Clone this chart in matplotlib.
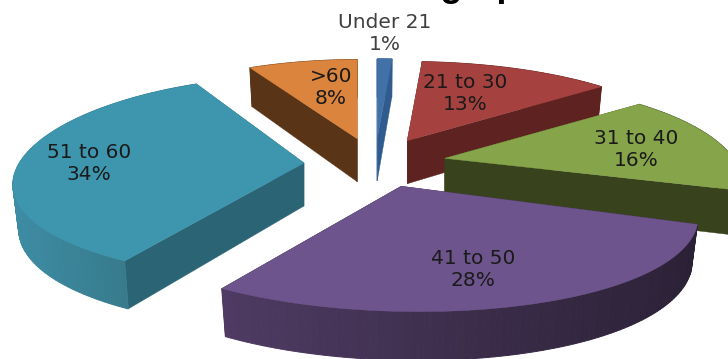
import numpy as np
import matplotlib
matplotlib.use('Agg')
import matplotlib.pyplot as plt
from matplotlib.colors import to_rgb
from matplotlib.patches import Polygon

labels = ['Under 21', '21 to 30', '31 to 40', '41 to 50', '51 to 60', '>60']
shares = [1, 13, 16, 28, 34, 8]
top_colors = ['#4271A8', '#A5423F', '#86A44A', '#6E548D', '#3D96AE', '#DB843D']
side_colors = ['#2F5B8F', '#5E2321', '#38421D', '#2E2339', '#2B6575', '#5A3416']
# outer wall shade at the left and right ends of each slice
rim_left = ['#2F5B8F', '#5E2321', '#38421D', '#4F3B63', '#3D8CA3', '#5A3416']
rim_right = ['#2F5B8F', '#5E2321', '#38421D', '#2B2136', '#34707F', '#5A3416']

# pie geometry in pixels
WIDTH, HEIGHT = 728, 359
CX, CY = 375, 163
RX_LEFT, RX_RIGHT, RX_RIGHT_SLOPE, RY = 279, 288.6, 14.8, 97
PERSP_X, PERSP_Y = 0.286, 0.225
EXPLODE_X, EXPLODE_Y = 71, 25
DEPTH = 43
DRAW_ORDER = [5, 0, 1, 2, 4, 3]
# small per-slice corrections to the rim, vertical shift and slope
arc_lift = [0, 0, 0, 0, -8, 0]
arc_tilt = [0, 0, 0, 0.02, 0, 0]


def project(theta, i):
    # theta runs clockwise from twelve o'clock, returns offsets from the slice tip
    u, v = np.sin(theta), -np.cos(theta)
    rx = np.where(u < 0, RX_LEFT, RX_RIGHT - RX_RIGHT_SLOPE * v)
    x = rx * u / (1 - PERSP_X * v)
    y = RY * v / (1 - PERSP_Y * v) + arc_lift[i] + arc_tilt[i] * x
    return x, y, v


def lower(x, y, v):
    # matching point on the underside of the slice
    return x * 0.98, y + DEPTH / (1 - 0.12 * v)


def draw_slice(ax, i, start, stop):
    mid = (start + stop) / 2
    tip_x = CX + EXPLODE_X * np.sin(mid)
    tip_y = CY - EXPLODE_Y * np.cos(mid)
    thetas = np.linspace(start, stop, max(int(np.degrees(stop - start)), 2) + 1)
    x, y, v = project(thetas, i)
    bx, by = lower(x, y, v)

    # flat cut faces
    for k in (0, -1):
        face = [(tip_x, tip_y), (tip_x + x[k], tip_y + y[k]),
                (tip_x + bx[k], tip_y + by[k]), (tip_x, tip_y + DEPTH)]
        ax.add_patch(Polygon(face, closed=True, fc=side_colors[i], ec=side_colors[i], lw=0.3))

    # outer wall, shaded strip by strip from left to right
    left = np.array(to_rgb(rim_left[i]))
    right = np.array(to_rgb(rim_right[i]))
    for k in range(len(thetas) - 1):
        t = (x[k] - x.min()) / (x.max() - x.min())
        col = left + (right - left) * t
        quad = [(tip_x + x[k], tip_y + y[k]), (tip_x + x[k + 1], tip_y + y[k + 1]),
                (tip_x + bx[k + 1], tip_y + by[k + 1]), (tip_x + bx[k], tip_y + by[k])]
        ax.add_patch(Polygon(quad, closed=True, fc=col, ec=col, lw=0.7))

    top = [(tip_x, tip_y)] + list(zip(tip_x + x, tip_y + y))
    ax.add_patch(Polygon(top, closed=True, fc=top_colors[i], ec=top_colors[i], lw=0.3))


fig = plt.figure(figsize=(WIDTH / 100, HEIGHT / 100), dpi=100)
ax = fig.add_axes([0, 0, 1, 1])
ax.set_xlim(0, WIDTH)
ax.set_ylim(HEIGHT, 0)
ax.axis('off')

edges = np.radians(np.cumsum([0] + shares) / sum(shares) * 360)
for i in DRAW_ORDER:
    draw_slice(ax, i, edges[i], edges[i + 1])

label_pos = [(385, 34), (465, 93), (636, 150), (473, 270), (89, 163), (331, 87)]
label_color = ['#404040', '#1A1A1A', '#1A1A1A', '#1A1A1A', '#1A1A1A', '#1A1A1A']
for name, share, pos, col in zip(labels, shares, label_pos, label_color):
    ax.text(pos[0], pos[1], f'{name}\n{share}%', ha='center', va='center',
            fontsize=14.5, color=col, family='DejaVu Sans', linespacing=1.2)

# title baseline sits above the top edge, only the descenders show
ax.text(466, -4.5, 'Demographics', ha='center', va='baseline', fontsize=26,
        fontweight='bold', family='Liberation Sans', color='black')

fig.savefig('out.png', dpi=100)
